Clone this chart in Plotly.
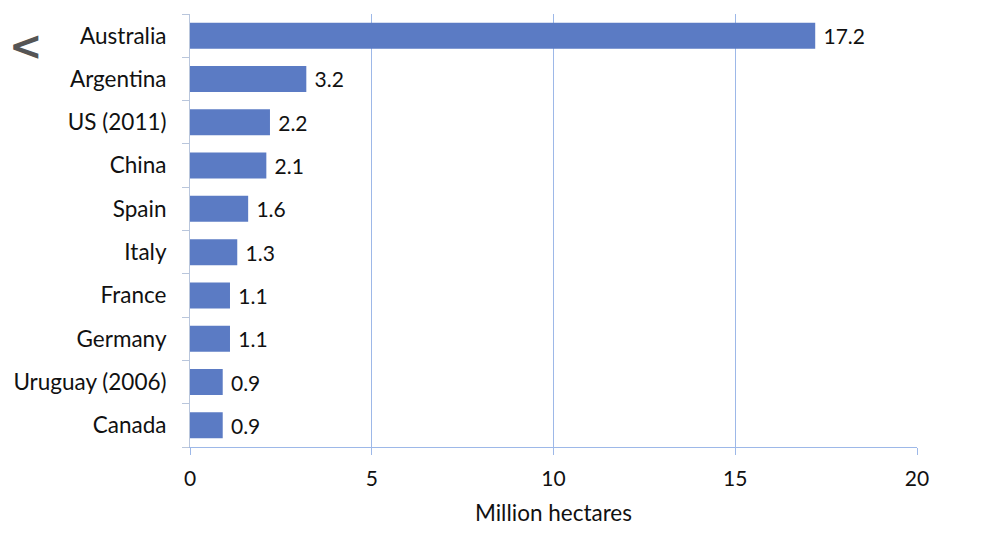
import plotly.graph_objects as go

countries = ["Australia", "Argentina", "US (2011)", "China", "Spain", "Italy",
             "France", "Germany", "Uruguay (2006)", "Canada"]
values = [17.2, 3.2, 2.2, 2.1, 1.6, 1.3, 1.1, 1.1, 0.9, 0.9]
x_ticks = [0, 5, 10, 15, 20]

font_family = "Lato, Open Sans, sans-serif"
grid_col = "#9db8e8"

fig = go.Figure(go.Bar(
    y=countries, x=values, orientation="h",
    marker=dict(color="#5b7bc4", line=dict(width=0)),
    text=[f"\u2005{v}" for v in values], textposition="outside",
    textfont=dict(size=21, color="#111111", family=font_family),
    cliponaxis=False, width=0.6,
))

fig.update_layout(
    width=1000, height=553,
    margin=dict(l=190, r=83, t=14, b=106),
    plot_bgcolor="white", paper_bgcolor="white",
    showlegend=False,
    font=dict(family=font_family, size=21, color="#111111"),
    xaxis=dict(
        range=[0, 20], tickvals=x_ticks, showgrid=True, gridcolor=grid_col,
        gridwidth=1, zeroline=False, showline=True, linecolor=grid_col,
        ticks="outside", ticklen=7, tickcolor=grid_col,
        tickfont=dict(size=21, color="#111111"), ticklabelstandoff=6,
        title=dict(text="Million hectares", font=dict(size=22.5, color="#111111"), standoff=16),
    ),
    yaxis=dict(
        categoryorder="array", categoryarray=countries[::-1],
        showline=True, linecolor="#b9c6dc", ticks="outside", ticklen=7,
        tickcolor="#b9c6dc", tickson="boundaries", showgrid=False,
        tickfont=dict(size=22.5, color="#111111"), ticklabelstandoff=18,
    ),
)

fig.add_annotation(
    text="<b><</b>", xref="paper", yref="paper", x=-0.2256, y=0.925,
    xanchor="center", yanchor="middle", showarrow=False,
    font=dict(size=40, color="#555555", family="DejaVu Sans"),
)

fig.write_html("out.html")
